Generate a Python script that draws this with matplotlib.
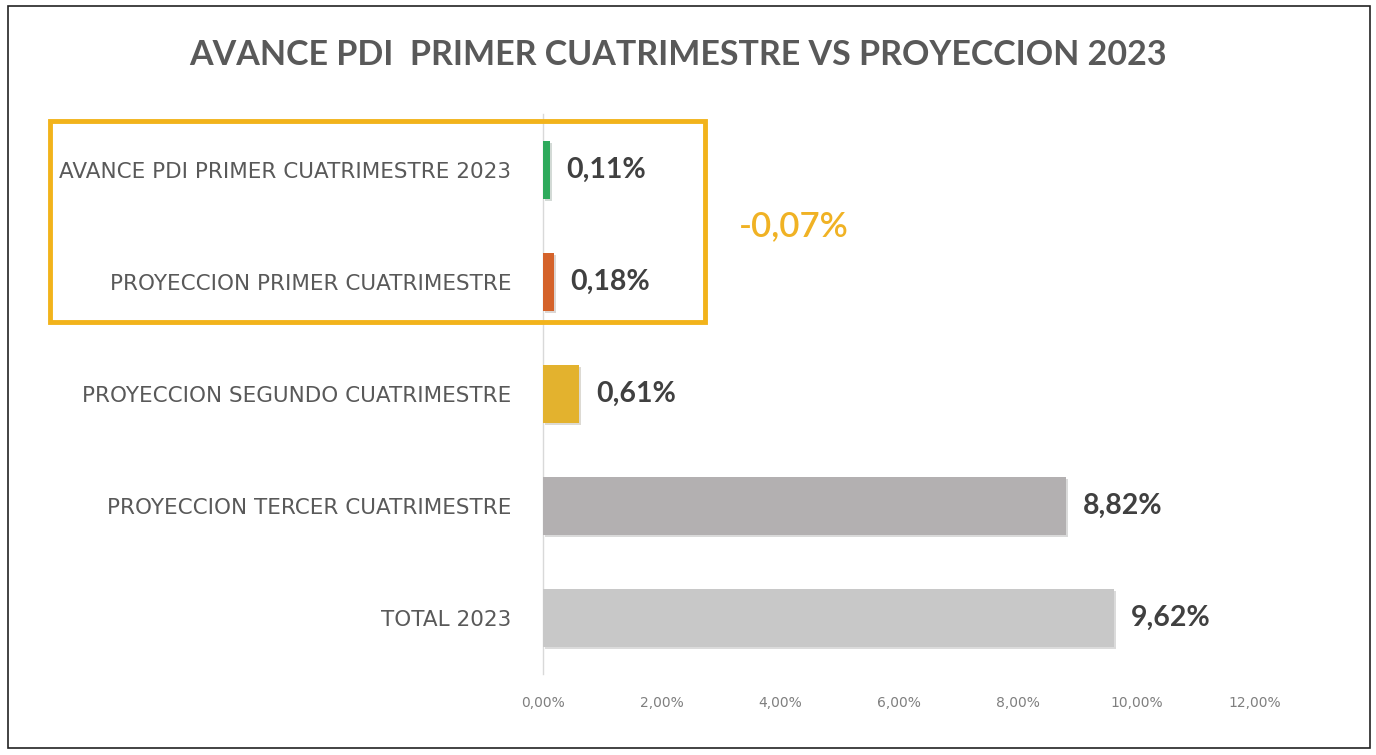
import matplotlib.pyplot as plt
import matplotlib.patheffects as pe
from matplotlib.patches import Rectangle
from matplotlib.ticker import FuncFormatter

# data
categorias = ['AVANCE PDI PRIMER CUATRIMESTRE 2023',
              'PROYECCION PRIMER CUATRIMESTRE',
              'PROYECCION SEGUNDO CUATRIMESTRE',
              'PROYECCION TERCER CUATRIMESTRE',
              'TOTAL 2023']
valores = [0.11, 0.18, 0.61, 8.82, 9.62]
colores = ['#2EAA5C', '#D4622A', '#E3B22E', '#B3B0B1', '#C8C8C8']
diferencia = -0.07
titulo = 'AVANCE PDI  PRIMER CUATRIMESTRE VS PROYECCION 2023'

narrow = ['DejaVu Sans']


def fmt_pct(v, dec=2):
    return ('%.*f%%' % (dec, v)).replace('.', ',')


fig = plt.figure(figsize=(13.76, 7.55), dpi=100)
ax = fig.add_axes([543 / 1376, 1 - 674 / 755, 712 / 1376, 560 / 755])

y = list(range(len(categorias)))
bars = ax.barh(y, valores, height=0.52, color=colores, zorder=3)
for b in bars:
    b.set_path_effects([pe.SimplePatchShadow(offset=(1.5, -1.5), alpha=0.18), pe.Normal()])

for yi, v in zip(y, valores):
    ax.text(v + 0.28, yi, fmt_pct(v), va='center', ha='left', fontsize=20.5,
            fontweight='bold', color='#404040', family='Lato')

ax.text(3.3, 0.5, fmt_pct(diferencia), va='center', ha='left', fontsize=25,
        color='#F0B224', family='Lato', fontweight='semibold')

ax.set_xlim(0, 12)
ax.set_ylim(len(categorias) - 0.5, -0.5)
ax.set_xticks(range(0, 13, 2))
ax.xaxis.set_major_formatter(FuncFormatter(lambda v, p: fmt_pct(v)))
ax.set_yticks(y)
ax.set_yticklabels(categorias, family=narrow, fontsize=15.5, color='#595959')
for lab in ax.get_xticklabels():
    lab.set_family(narrow)
    lab.set_fontsize(10)
    lab.set_color('#7F7F7F')
ax.tick_params(axis='both', length=0)
ax.tick_params(axis='y', pad=23)
ax.tick_params(axis='x', pad=16)
for s in ['top', 'right', 'bottom']:
    ax.spines[s].set_visible(False)
ax.spines['left'].set_color('#D9D9D9')
ax.spines['left'].set_linewidth(1)

fig.text(678 / 1376, 1 - 55 / 755, titulo, ha='center', va='center',
         fontsize=24.5, fontweight='bold', color='#595959', family='Lato')

# recuadro dorado
fig.patches.append(Rectangle((50 / 1376, 1 - 322 / 755), 655 / 1376, 201 / 755,
                             transform=fig.transFigure, fill=False,
                             edgecolor='#F2B31B', linewidth=3.5, zorder=5))
# borde exterior
fig.patches.append(Rectangle((8 / 1376, 1 - 748 / 755), 1362 / 1376, 742 / 755,
                             transform=fig.transFigure, fill=False,
                             edgecolor='#222222', linewidth=1.2, zorder=5))

fig.savefig('out.png', dpi=100)
